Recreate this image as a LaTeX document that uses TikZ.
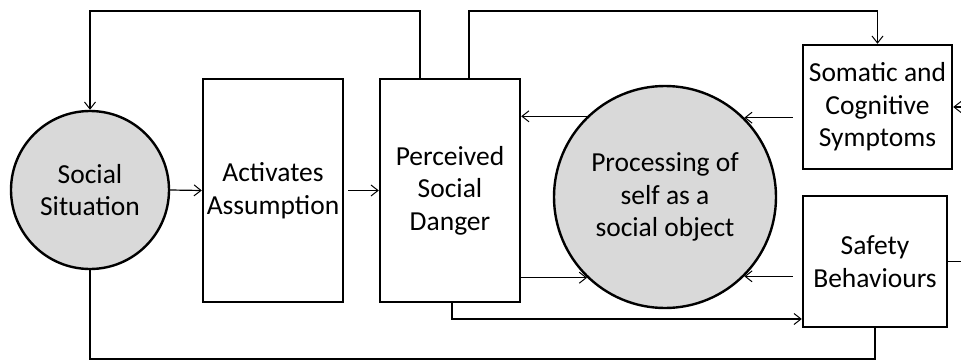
\documentclass[tikz,border=0pt]{standalone}
\usepackage{fontspec}
\setmainfont{Carlito}
\usetikzlibrary{arrows.meta}
\begin{document}
\begin{tikzpicture}[x=1pt,y=-1pt,
  txt/.style={font=\fontsize{27.5}{32.5}\selectfont, align=center, inner sep=0pt},
  boxnode/.style={txt, draw, line width=2.4pt, rectangle},
  circnode/.style={txt, draw, line width=2.4pt, circle, fill=black!15},
  conn/.style={line width=1.2pt},
  arr/.style={conn, -{Straight Barb[length=7pt,width=11pt,line width=1pt]}}]
\useasboundingbox (0,0) rectangle (961,361);
\node[circnode, minimum size=158pt] (ss) at (90,190) {Social\\Situation};
\node[boxnode, minimum width=140pt, minimum height=223pt] (aa) at (273,190.5) {Activates\\Assumption};
\node[boxnode, minimum width=140pt, minimum height=223pt] (psd) at (450,190.5) {Perceived\\Social\\Danger};
\node[circnode, minimum size=222pt] (proc) at (665,197) {Processing of\\self as a\\social object};
\node[boxnode, minimum width=149pt, minimum height=124pt] (som) at (877.5,107) {Somatic and\\Cognitive\\Symptoms};
\node[boxnode, minimum width=144pt, minimum height=131pt] (safe) at (875,261.5) {Safety\\Behaviours};
% coordinates
\coordinate (L1) at (420,11);
\coordinate (L2) at (469,11);
\coordinate (P) at (452,319);
\coordinate (B) at (90,359);
\coordinate (R1) at (961,107);
\coordinate (R2) at (961,262);
\coordinate (s1) at ([xshift=-9pt]som.west);
\coordinate (s2) at ([xshift=-9pt]safe.west);
\coordinate (a1) at ([xshift=4pt]aa.east);
% connectors
\draw[arr] (ss.east) -- (aa.west);
\draw[arr] (a1) -- (psd.west);
\draw[arr] (L1 |- psd.north) -- (L1) -| (ss.north);
\draw[arr] (L2 |- psd.north) -- (L2) -| (som.north);
\draw[arr] (s1 |- proc.45.6) -- (proc.45.6);
\draw[arr] (proc.134.4) -- (proc.134.4 -| psd.east);
\draw[arr] (proc.-134.4 -| psd.east) -- (proc.-134.4);
\draw[arr] (s2 |- proc.-45.6) -- (proc.-45.6);
\draw[arr] (P |- psd.south) -- (P) -- (P -| safe.west);
\draw[conn] (ss.south) -- (B) -| (safe.south);
\draw[arr] (R1) -- (som.east);
\draw[conn] (safe.east) -- (R2 |- safe.east);
\end{tikzpicture}
\end{document}
